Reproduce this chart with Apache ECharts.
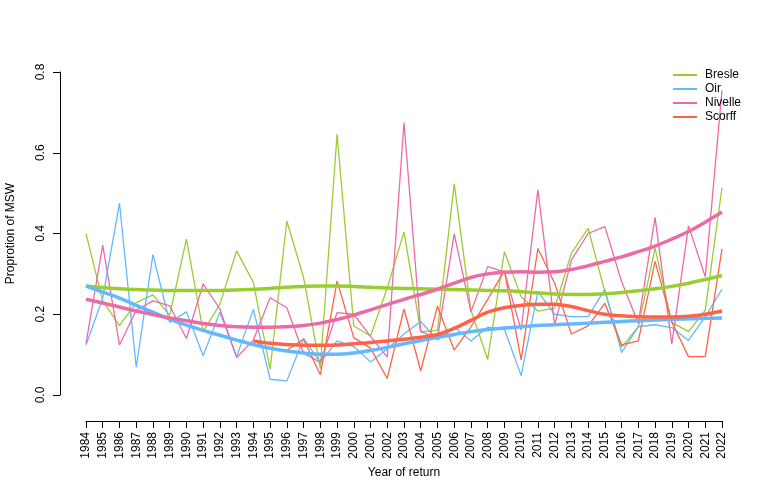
<!DOCTYPE html>
<html>
<head>
<meta charset="utf-8">
<script src="https://cdn.jsdelivr.net/npm/echarts@6/dist/echarts.min.js"></script>
<style>html,body{margin:0;padding:0;background:#fff}#c{width:780px;height:480px}</style>
</head>
<body>
<div id="c"></div>
<script>
const years = [1984,1985,1986,1987,1988,1989,1990,1991,1992,1993,1994,1995,1996,1997,1998,1999,2000,2001,2002,2003,2004,2005,2006,2007,2008,2009,2010,2011,2012,2013,2014,2015,2016,2017,2018,2019,2020,2021,2022];
const scorffYears = [1994,1995,1996,1997,1998,1999,2000,2001,2002,2003,2004,2005,2006,2007,2008,2009,2010,2011,2012,2013,2014,2015,2016,2017,2018,2019,2020,2021,2022];
const yTicks = [0, 0.2, 0.4, 0.6, 0.8];

const bresle = [0.40,0.233,0.172,0.229,0.248,0.197,0.386,0.157,0.225,0.357,0.279,0.064,0.431,0.291,0.066,0.646,0.171,0.146,0.265,0.404,0.157,0.160,0.523,0.210,0.088,0.355,0.243,0.208,0.215,0.351,0.413,0.256,0.118,0.169,0.364,0.180,0.157,0.210,0.514];
const oir = [0.124,0.240,0.475,0.069,0.348,0.180,0.206,0.097,0.205,0.095,0.212,0.039,0.035,0.140,0.080,0.134,0.120,0.082,0.114,0.151,0.182,0.136,0.169,0.134,0.168,0.163,0.048,0.256,0.200,0.194,0.194,0.262,0.105,0.169,0.174,0.167,0.135,0.194,0.262];
const nivelle = [0.128,0.371,0.124,0.210,0.233,0.221,0.140,0.275,0.213,0.093,0.136,0.241,0.216,0.103,0.081,0.204,0.200,0.145,0.094,0.675,0.157,0.140,0.399,0.206,0.318,0.305,0.161,0.508,0.173,0.334,0.400,0.417,0.281,0.178,0.440,0.126,0.419,0.293,0.755];
const scorff = [0.135,0.113,0.111,0.138,0.050,0.282,0.142,0.116,0.041,0.213,0.060,0.220,0.111,0.169,0.237,0.308,0.087,0.363,0.277,0.151,0.171,0.227,0.124,0.134,0.331,0.180,0.095,0.095,0.362];

const bresleSmooth = [0.270,0.266,0.263,0.261,0.260,0.259,0.259,0.259,0.259,0.260,0.262,0.264,0.267,0.269,0.270,0.270,0.269,0.267,0.265,0.264,0.263,0.262,0.261,0.260,0.259,0.258,0.256,0.253,0.250,0.249,0.249,0.251,0.254,0.258,0.263,0.269,0.277,0.286,0.296];
const oirSmooth = [0.270,0.255,0.240,0.222,0.205,0.188,0.173,0.160,0.148,0.136,0.125,0.116,0.109,0.104,0.101,0.101,0.104,0.110,0.118,0.127,0.135,0.143,0.150,0.157,0.162,0.166,0.169,0.172,0.174,0.176,0.178,0.180,0.182,0.184,0.186,0.187,0.189,0.190,0.191];
const nivelleSmooth = [0.237,0.228,0.218,0.208,0.199,0.191,0.184,0.177,0.172,0.169,0.168,0.168,0.169,0.172,0.178,0.187,0.198,0.211,0.224,0.237,0.249,0.262,0.277,0.291,0.300,0.304,0.305,0.304,0.305,0.311,0.320,0.331,0.342,0.355,0.369,0.386,0.405,0.428,0.453];
const scorffSmooth = [0.134,0.128,0.125,0.123,0.123,0.124,0.127,0.130,0.134,0.138,0.143,0.150,0.165,0.185,0.205,0.216,0.222,0.225,0.225,0.219,0.209,0.200,0.196,0.194,0.193,0.193,0.195,0.200,0.208];

const names = ['Bresle','Oir','Nivelle','Scorff'];
const colors = ['#9ACD32','#63B8FF','#EE6AA7','#FF6347'];

const pairs = (ys, vs) => ys.map((y, i) => [String(y), vs[i]]);
const raw = [pairs(years, bresle), pairs(years, oir), pairs(years, nivelle), pairs(scorffYears, scorff)];
const smooth = [pairs(years, bresleSmooth), pairs(years, oirSmooth), pairs(years, nivelleSmooth), pairs(scorffYears, scorffSmooth)];

const font = 'Liberation Sans, Arial, Helvetica, sans-serif';
const series = [];
raw.forEach((d, i) => series.push({
  name: names[i], type: 'line', data: d, showSymbol: false, symbol: 'none',
  lineStyle: {color: colors[i], width: 1.3}, itemStyle: {color: colors[i]}, z: 2, animation: false
}));
smooth.forEach((d, i) => series.push({
  name: names[i] + ' trend', type: 'line', data: d, showSymbol: false, symbol: 'none', smooth: 0.4,
  lineStyle: {color: colors[i], width: 3.5}, itemStyle: {color: colors[i]}, z: 3, animation: false
}));

const chart = echarts.init(document.getElementById('c'), null, {renderer: 'canvas'});
chart.setOption({
  animation: false,
  backgroundColor: '#fff',
  textStyle: {fontFamily: font},
  grid: {left: 86, right: 58, top: 72, bottom: 85, containLabel: false, outerBoundsMode: 'none'},
  legend: {
    data: names, orient: 'vertical', left: 673, top: 68, itemGap: 0,
    itemWidth: 24, itemHeight: 2, icon: 'rect',
    textStyle: {fontFamily: font, fontSize: 12, color: '#000', lineHeight: 14, padding: [0,0,0,3]},
    padding: 0
  },
  xAxis: {
    type: 'category', data: years.map(String), boundaryGap: false, offset: 26,
    axisLine: {onZero: false, lineStyle: {color: '#000', width: 1}},
    axisTick: {alignWithLabel: true, length: 7, interval: 0, lineStyle: {color: '#000'}},
    axisLabel: {interval: 0, rotate: 90, margin: 11, fontSize: 12, color: '#000', fontFamily: font},
    splitLine: {show: false},
    name: 'Year of return', nameLocation: 'middle', nameGap: 43,
    nameTextStyle: {fontSize: 12, color: '#000', fontFamily: font}
  },
  yAxis: {
    type: 'value', min: 0, max: 0.8, interval: 0.2, offset: 26,
    axisLine: {show: true, onZero: false, lineStyle: {color: '#000', width: 1}},
    axisTick: {show: true, length: 7, lineStyle: {color: '#000'}},
    axisLabel: {rotate: 90, margin: 13, fontSize: 12, color: '#000', fontFamily: font,
      formatter: v => yTicks.includes(+v.toFixed(1)) ? v.toFixed(1) : ''},
    splitLine: {show: false},
    name: 'Proprotion of MSW', nameLocation: 'middle', nameGap: 43,
    nameTextStyle: {fontSize: 12, color: '#000', fontFamily: font}
  },
  series: series
});
</script>
</body>
</html>
